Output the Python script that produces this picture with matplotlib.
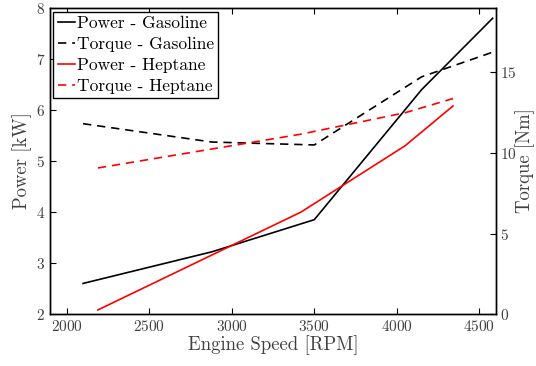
import matplotlib
matplotlib.use("Agg")
import matplotlib.pyplot as plt

plt.rcParams["font.family"] = "serif"
plt.rcParams["font.serif"] = ["cmr10"]
plt.rcParams["mathtext.fontset"] = "cm"
plt.rcParams["axes.formatter.use_mathtext"] = True

# Data
rpm_gas = [2100, 2880, 3500, 4150, 4580]
power_gas = [2.60, 3.22, 3.85, 6.40, 7.80]
torque_gas = [11.82, 10.68, 10.50, 14.73, 16.26]

rpm_hep = [2190, 3420, 4050, 4340]
power_hep = [2.08, 4.00, 5.30, 6.08]
torque_hep = [9.07, 11.17, 12.50, 13.38]

txt = "#404040"

fig = plt.figure(figsize=(5.36, 3.66), dpi=100)
ax = fig.add_axes([0.0933, 0.142, 0.832, 0.836])
ax2 = ax.twinx()

l1, = ax.plot(rpm_gas, power_gas, color="black", lw=1.2, label="Power - Gasoline")
l2, = ax2.plot(rpm_gas, torque_gas, color="black", lw=1.2, ls=(0, (5, 3.5)), label="Torque - Gasoline")
l3, = ax.plot(rpm_hep, power_hep, color="red", lw=1.2, label="Power - Heptane")
l4, = ax2.plot(rpm_hep, torque_hep, color="red", lw=1.2, ls=(0, (5, 3.5)), label="Torque - Heptane")

ax.set_xlim(1900, 4600)
ax.set_ylim(2, 8)
ax2.set_ylim(0, 19)
ax.set_xticks([2000, 2500, 3000, 3500, 4000, 4500])
ax.set_yticks([2, 3, 4, 5, 6, 7, 8])
ax2.set_yticks([0, 5, 10, 15])

ax.set_xlabel("Engine Speed [RPM]", fontsize=13.5, color=txt, labelpad=1)
ax.set_ylabel("Power [kW]", fontsize=13.5, color=txt, labelpad=3)
ax2.set_ylabel("Torque [Nm]", fontsize=13.5, color=txt, labelpad=-1)

ax.tick_params(axis="x", direction="in", top=True, labelsize=11, labelcolor=txt, length=4)
ax.tick_params(axis="y", direction="in", labelsize=11, labelcolor=txt, length=4)
ax2.tick_params(axis="y", direction="in", labelsize=11, labelcolor=txt, length=4, pad=3)

for a in (ax, ax2):
    for s in a.spines.values():
        s.set_linewidth(1.0)
        s.set_color("black")

leg = ax.legend(handles=[l1, l2, l3, l4], loc="upper left", fontsize=12.5,
                handlelength=1.0, handletextpad=0.1, borderpad=0.25,
                labelspacing=0.32, borderaxespad=0.2, fancybox=False,
                framealpha=1)
leg.get_frame().set_edgecolor("black")
leg.get_frame().set_linewidth(1.0)
for t in leg.get_texts():
    t.set_color("black")

fig.savefig("out.png", dpi=100)
